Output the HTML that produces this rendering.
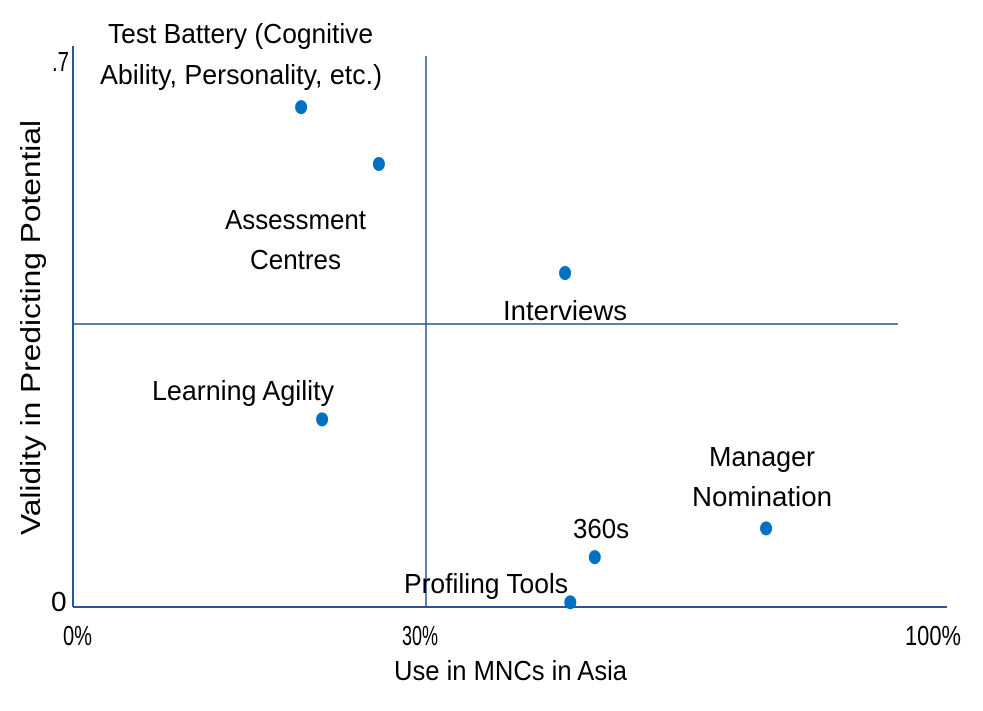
<!DOCTYPE html>
<html><head><meta charset="utf-8"><style>
html,body{margin:0;padding:0;background:#fff;}
svg{display:block;font-family:"Liberation Sans",sans-serif;}
text{fill:#000;font-size:28px;}
</style></head><body>
<svg id="chart" width="983" height="711">
<line x1="73" y1="46" x2="73" y2="607" stroke="#2a5597" stroke-width="2"/>
<line x1="73" y1="607" x2="947" y2="607" stroke="#2a5597" stroke-width="2"/>
<line x1="426" y1="56" x2="426" y2="607" stroke="#2a5597" stroke-width="1.5"/>
<line x1="73" y1="324" x2="898" y2="324" stroke="#2a5597" stroke-width="1.5"/>
<text x="52" y="71" textLength="17" lengthAdjust="spacingAndGlyphs" font-size="24">.7</text>
<text x="51" y="611" font-size="22">0</text>
<text x="63" y="645" textLength="29" lengthAdjust="spacingAndGlyphs" font-size="25">0%</text>
<text x="402" y="645" textLength="36" lengthAdjust="spacingAndGlyphs" font-size="25">30%</text>
<text x="905" y="645" textLength="56" lengthAdjust="spacingAndGlyphs" font-size="25">100%</text>
<text x="394" y="680" textLength="233" lengthAdjust="spacingAndGlyphs">Use in MNCs in Asia</text>
<text transform="translate(40,535) rotate(-90)" textLength="415" lengthAdjust="spacingAndGlyphs">Validity in Predicting Potential</text>
<g id="labels">
<text x="108" y="43" textLength="265" lengthAdjust="spacingAndGlyphs">Test Battery (Cognitive</text>
<text x="100" y="84" textLength="282" lengthAdjust="spacingAndGlyphs">Ability, Personality, etc.)</text>
<text x="225" y="229" textLength="141" lengthAdjust="spacingAndGlyphs">Assessment</text>
<text x="250" y="269" textLength="91" lengthAdjust="spacingAndGlyphs">Centres</text>
<text x="503" y="320" textLength="124" lengthAdjust="spacingAndGlyphs">Interviews</text>
<text x="152" y="400" textLength="182" lengthAdjust="spacingAndGlyphs">Learning Agility</text>
<text x="709" y="466" textLength="106" lengthAdjust="spacingAndGlyphs">Manager</text>
<text x="692" y="506" textLength="140" lengthAdjust="spacingAndGlyphs">Nomination</text>
<text x="573" y="538" textLength="56" lengthAdjust="spacingAndGlyphs">360s</text>
<text x="404" y="593" textLength="164" lengthAdjust="spacingAndGlyphs">Profiling Tools</text>
</g>
<g id="points"></g>
</svg>
<script>
const categories = ["Test Battery","Assessment Centres","Interviews","Learning Agility","Manager Nomination","360s","Profiling Tools"];
const useValues = [26.1, 35.0, 56.3, 28.5, 79.3, 59.7, 56.9];
const validityValues = [0.642, 0.569, 0.429, 0.241, 0.101, 0.064, 0.006];
function xScale(v){ return 73 + (v/100)*874; }
function yScale(v){ return 607 - (v/0.7)*545; }
const g = document.getElementById('points');
for (let i = 0; i < categories.length; i++) {
  const c = document.createElementNS('http://www.w3.org/2000/svg','ellipse');
  c.setAttribute('cx', xScale(useValues[i]));
  c.setAttribute('cy', yScale(validityValues[i]));
  c.setAttribute('rx', 6);
  c.setAttribute('ry', 7);
  c.setAttribute('fill', '#0070c0');
  
  
  g.appendChild(c);
}
</script>
</body></html>
